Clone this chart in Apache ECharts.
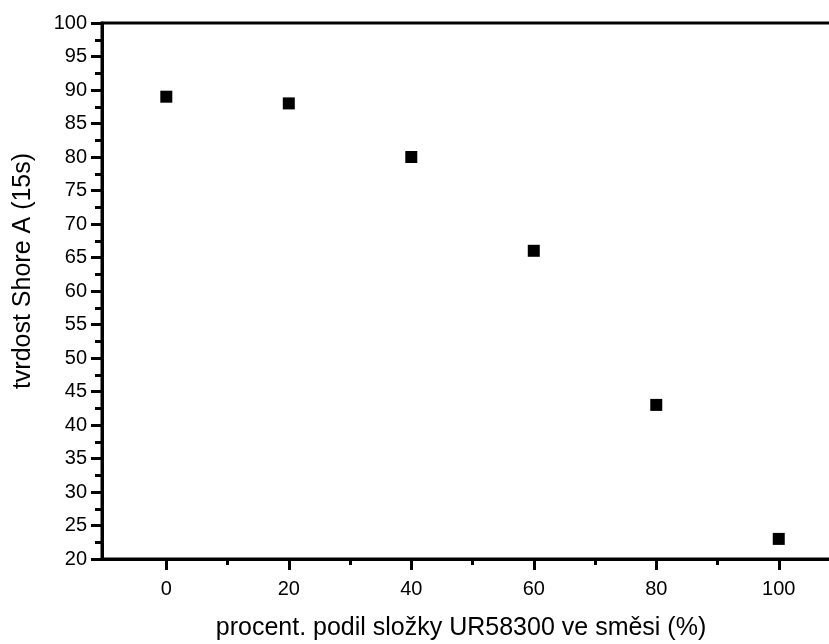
<!DOCTYPE html>
<html>
<head>
<meta charset="utf-8">
<script src="https://cdn.jsdelivr.net/npm/echarts@6/dist/echarts.min.js"></script>
<style>html,body{margin:0;padding:0;background:#fff;}#c{width:829px;height:644px;}</style>
</head>
<body>
<div id="c"></div>
<script>
var xValues = [0, 20, 40, 60, 80, 100];
var hardness = [89, 88, 80, 66, 43, 23];
var xMajorTicks = [0, 20, 40, 60, 80, 100];
var xMinorTicks = [10, 30, 50, 70, 90];
var xTitle = 'procent. podil složky UR58300 ve směsi (%)';
var yTitle = 'tvrdost Shore A (15s)';

var chart = echarts.init(document.getElementById('c'), null, {renderer: 'canvas'});
var font = 'Liberation Sans, Arial, sans-serif';
var xMin = -10.5, xMax = 110;
function tickAxis(values, len) {
  return {
    type: 'value', min: xMin, max: xMax, position: 'bottom', offset: 0,
    axisLine: {show: false, onZero: false},
    axisTick: {show: true, length: len, inside: false, customValues: values, lineStyle: {color: '#000', width: 3}},
    splitLine: {show: false},
    axisLabel: {show: false}
  };
}
chart.setOption({
  animation: false,
  backgroundColor: '#fff',
  grid: {left: 102, top: 23, width: 738, height: 536, show: true, borderColor: '#000', borderWidth: 3,
    backgroundColor: 'transparent', outerBoundsMode: 'none', containLabel: false},
  xAxis: [{
    type: 'value', min: xMin, max: xMax, position: 'bottom', offset: 0,
    name: xTitle, nameLocation: 'middle', nameGap: 57,
    nameTextStyle: {fontFamily: font, fontSize: 25, color: '#000', padding: [0, 20, 0, 0]},
    axisLine: {show: true, onZero: false, lineStyle: {color: '#000', width: 3}},
    axisTick: {show: false},
    splitLine: {show: false},
    axisLabel: {fontFamily: font, fontSize: 20, color: '#000', margin: 20, customValues: xMajorTicks}
  }, tickAxis(xMajorTicks, 11), tickAxis(xMinorTicks, 6)],
  yAxis: {
    type: 'value', min: 20, max: 100, interval: 5,
    name: yTitle, nameLocation: 'middle', nameGap: 66,
    nameTextStyle: {fontFamily: font, fontSize: 25, color: '#000', padding: [0, 0, 0, 40]},
    axisLine: {show: true, onZero: false, lineStyle: {color: '#000', width: 3}},
    axisTick: {show: true, length: 11, inside: false, lineStyle: {color: '#000', width: 3}},
    minorTick: {show: true, splitNumber: 2, length: 7, lineStyle: {color: '#000', width: 3}},
    splitLine: {show: false},
    axisLabel: {fontFamily: font, fontSize: 20, color: '#000', margin: 15}
  },
  series: [{
    type: 'scatter',
    xAxisIndex: 0,
    symbol: 'rect',
    symbolSize: 12,
    itemStyle: {color: '#000', opacity: 1},
    data: xValues.map(function (x, i) { return [x, hardness[i]]; })
  }]
});
</script>
</body>
</html>
